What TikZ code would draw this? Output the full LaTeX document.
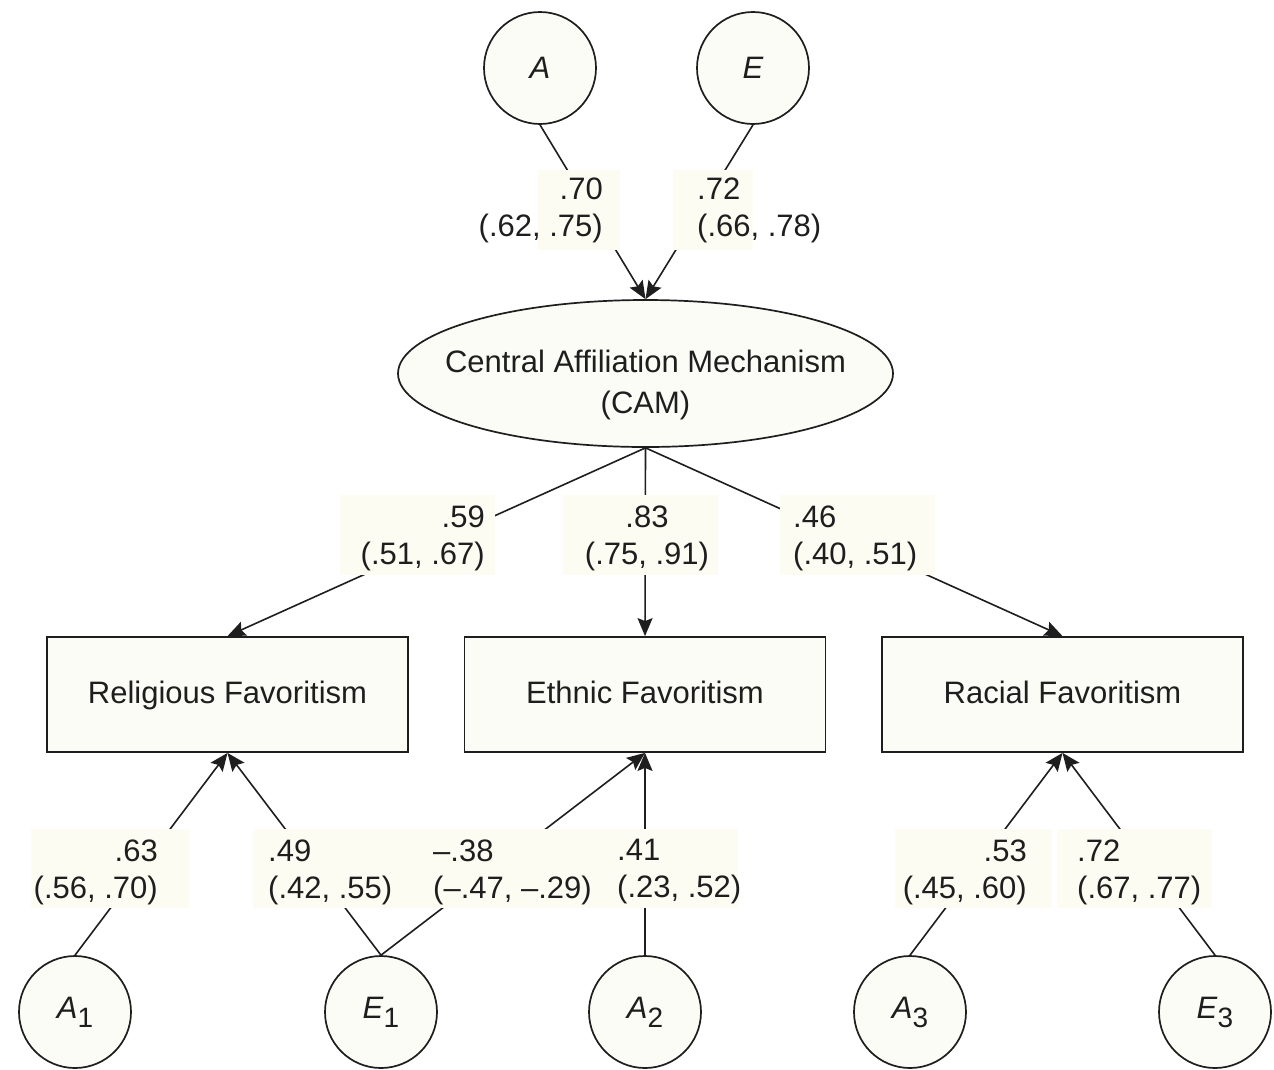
\documentclass[tikz,border=0pt]{standalone}
\usepackage{fontspec}
\setmainfont{Liberation Sans}
\usetikzlibrary{arrows.meta,shapes.geometric}

\definecolor{paper}{RGB}{252,252,246}
\definecolor{tagbg}{RGB}{252,252,243}
\definecolor{ink}{RGB}{30,30,30}

% lowered index for the error terms (A_1, E_1, ...)
\newcommand\lowidx[1]{\raisebox{-9pt}{\fontsize{28}{28}\selectfont #1}}

\tikzset{
  txt/.style={font=\fontsize{31}{37}\selectfont, inner sep=0pt, text=ink},
  latent/.style={circle, draw=ink, line width=1.7pt, fill=paper,
                 minimum size=112pt, inner sep=0pt, txt},
  factor/.style={ellipse, draw=ink, line width=1.7pt, fill=paper,
                 minimum width=495pt, minimum height=147pt, inner sep=0pt},
  measure/.style={rectangle, draw=ink, line width=1.8pt, fill=paper,
                  minimum width=361pt, minimum height=115pt, inner sep=0pt, txt,
                  text height=23pt, text depth=6pt},
  link/.style={draw=ink, line width=1.6pt,
               -{Stealth[length=18pt,width=15pt,inset=3pt]}},
  tag/.style={rectangle, fill=tagbg, draw=none, inner sep=0pt,
              minimum height=80pt},
  estL/.style={txt, align=left, anchor=west},
  estR/.style={txt, align=right, anchor=east},
  estC/.style={txt, align=center, anchor=center},
}

\begin{document}
\begin{tikzpicture}[x=1pt,y=-1pt]
\useasboundingbox[fill=white] (0,0) rectangle (1274,1069);

% genetic and environmental sources of the common factor
\node[latent] (A) at (540,68) {\textit{A}};
\node[latent] (E) at (753,68) {\textit{E}};

% common factor
\node[factor] (cam) at (645.5,373.5) {};
\node[txt, align=center, font=\fontsize{31}{41}\selectfont] (camtext) at (645.5,385)
  {Central Affiliation Mechanism\\(CAM)};

% observed favoritism measures
\node[measure] (rel) at (227.5,694.5) {Religious Favoritism};
\node[measure] (eth) at (645,694.5) {Ethnic Favoritism};
\node[measure] (rac) at (1062.5,694.5) {Racial Favoritism};

% specific sources
\node[latent] (A1) at (75,1012) {\textit{A}\lowidx{1}};
\node[latent] (E1) at (381,1012) {\textit{E}\lowidx{1}};
\node[latent] (A2) at (645,1012) {\textit{A}\lowidx{2}};
\node[latent] (A3) at (910,1012) {\textit{A}\lowidx{3}};
\node[latent] (E3) at (1215,1012) {\textit{E}\lowidx{3}};

% paths
\draw[link] (A.south) -- (cam.north);
\draw[link] (E.south) -- (cam.north);
\draw[link] (cam.south) -- (rel.north);
\draw[link] (cam.south) -- (eth.north);
\draw[link] (cam.south) -- (rac.north);
\draw[link] (A1.north) -- (rel.south);
\draw[link] (E1.north) -- (rel.south);
\draw[link] (E1.north) -- (eth.south);
\draw[link] (A2.north) -- (eth.south);
\draw[link] (A3.north) -- (rac.south);
\draw[link] (E3.north) -- (rac.south);

% backgrounds behind the estimates
\node[tag, minimum width=82pt]  (bgA)   at (579,210) {};
\node[tag, minimum width=80pt]  (bgE)   at (713,210) {};
\node[tag, minimum width=155pt] (bgRel) at (417.5,535) {};
\node[tag, minimum width=155pt] (bgEth) at (640.5,535) {};
\node[tag, minimum width=155pt] (bgRac) at (857.5,535) {};
\node[tag, minimum width=158pt, minimum height=79pt] (bgA1)  at (110,868.5) {};
\node[tag, minimum width=177pt, minimum height=79pt] (bgE1r) at (341.5,868.5) {};
\node[tag, minimum width=147pt, minimum height=79pt] (bgE1e) at (503.5,868.5) {};
\node[tag, minimum width=161pt, minimum height=79pt] (bgA2)  at (657.5,868.5) {};
\node[tag, minimum width=157pt, minimum height=79pt] (bgA3)  at (973.5,868.5) {};
\node[tag, minimum width=155pt, minimum height=79pt] (bgE3)  at (1134.5,868.5) {};

% standardized estimates with 95% intervals
\node[estR] (tA)   at (603,210.6)  {.70\\(.62, .75)};
\node[estL] (tE)   at (697,210.6)  {.72\\(.66, .78)};
\node[estR] (tRel) at (485,538)    {.59\\(.51, .67)};
\node[estC] (tEth) at (647,538)    {.83\\(.75, .91)};
\node[estL] (tRac) at (793,538)    {.46\\(.40, .51)};
\node[estR] (tA1)  at (158,872)    {.63\\(.56, .70)};
\node[estL] (tE1r) at (268,872)    {.49\\(.42, .55)};
\node[estL] (tE1e) at (433,872)    {–.38\\(–.47, –.29)};
\node[estL] (tA2)  at (617,872)    {.41\\(.23, .52)};
\node[estR] (tA3)  at (1027,872)   {.53\\(.45, .60)};
\node[estL] (tE3)  at (1077,872)   {.72\\(.67, .77)};
\end{tikzpicture}
\end{document}
